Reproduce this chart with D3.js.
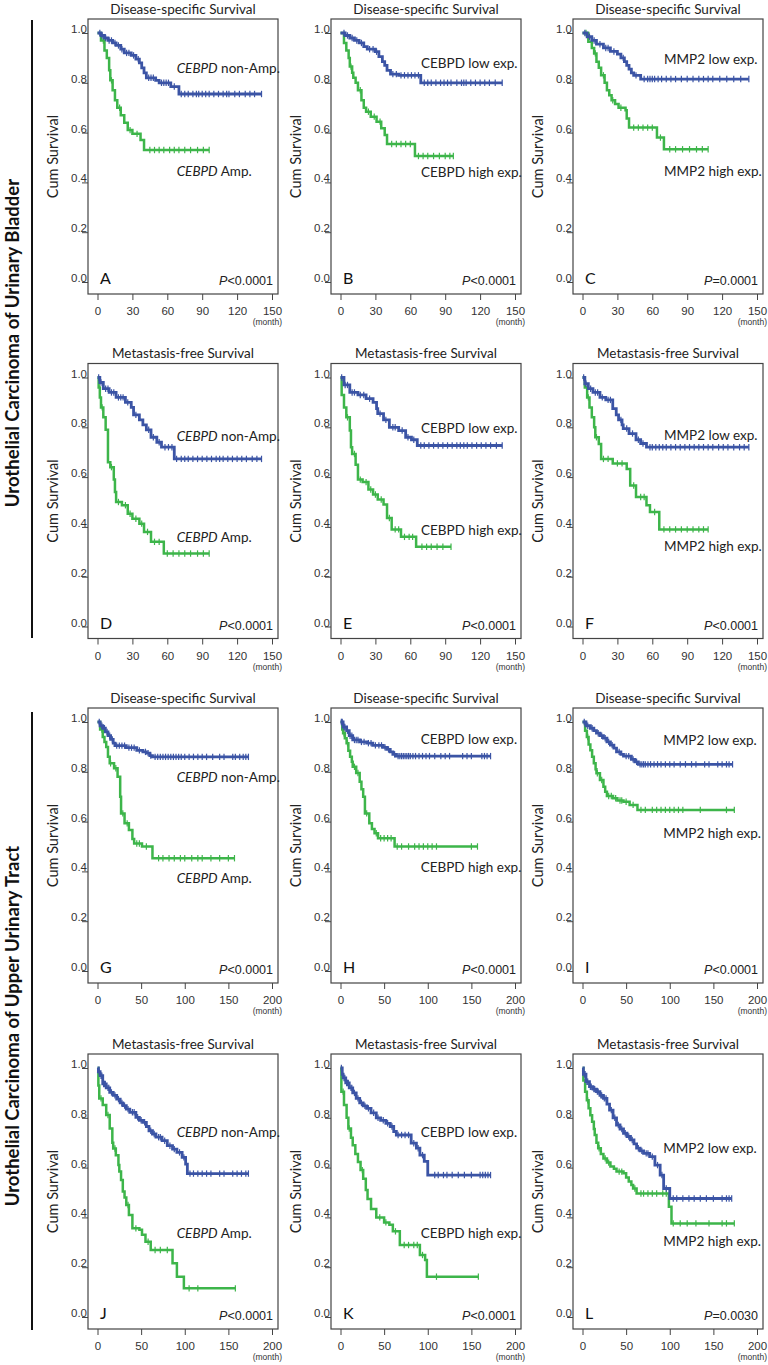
<!DOCTYPE html>
<html><head><meta charset="utf-8">
<script src="https://cdn.jsdelivr.net/npm/d3@7"></script>
<style>body{margin:0;background:#fff}</style>
</head><body>
<svg id="c" width="768" height="1365" xmlns="http://www.w3.org/2000/svg"></svg>
<script>
// ---------------- DATA ----------------
const letters = ["A","B","C","D","E","F","G","H","I","J","K","L"];
const titles = ["Disease-specific Survival","Disease-specific Survival","Disease-specific Survival",
  "Metastasis-free Survival","Metastasis-free Survival","Metastasis-free Survival",
  "Disease-specific Survival","Disease-specific Survival","Disease-specific Survival",
  "Metastasis-free Survival","Metastasis-free Survival","Metastasis-free Survival"];
const pSigns = ["<","<","=","<","<","<","<","<","<","<","<","="];
const pValues = ["0.0001","0.0001","0.0001","0.0001","0.0001","0.0001","0.0001","0.0001","0.0001","0.0001","0.0001","0.0030"];
const sectionLabels = ["Urothelial Carcinoma of Urinary Bladder","Urothelial Carcinoma of Upper Urinary Tract"];
const xTicksBladder = [0,30,60,90,120,150];
const xTicksTract = [0,50,100,150,200];
const yTicks = [0,0.2,0.4,0.6,0.8,1.0];
// group label parts: [italic part, normal part]
const lowLabels = [["CEBPD"," non-Amp."],["","CEBPD low exp."],["","MMP2 low exp."]];
const highLabels = [["CEBPD"," Amp."],["","CEBPD high exp."],["","MMP2 high exp."]];

// step curves: [month, survival from that month on]; censor: months
const A_blue = [[0,1],[3,0.99],[6,0.98],[9,0.97],[13,0.96],[16,0.95],[20,0.935],[23,0.92],[29,0.91],[33,0.895],[36,0.88],[38,0.86],[40,0.84],[42,0.82],[50,0.81],[53,0.80],[63,0.785],[70,0.755]];
const A_blueC = [2,4,7,10,12,15,18,21,25,27,31,35,44,46,48,55,57,59,61,66,72,75,78,82,85,87,90,93,96,100,104,108,111,113,118,122,127,131,135,141];
const A_green = [[0,1],[3,0.97],[6,0.93],[8,0.90],[10,0.85],[11,0.81],[13,0.77],[15,0.73],[17,0.70],[20,0.67],[23,0.64],[26,0.61],[30,0.595],[37,0.57],[40,0.53]];
const A_greenC = [5,12,19,28,34,45,49,53,57,62,66,70,75,80,86,91,96];

const B_blue = [[0,1],[4,0.99],[8,0.98],[12,0.97],[16,0.96],[20,0.945],[23,0.935],[30,0.925],[33,0.905],[36,0.885],[38,0.87],[40,0.85],[43,0.835],[50,0.83],[69,0.80]];
const B_blueC = [3,6,10,14,18,25,28,31,45,48,52,55,58,61,64,67,72,75,78,82,86,89,92,95,100,104,106,108,112,116,120,124,128,133,139];
const B_green = [[0,1],[3,0.96],[5,0.93],[7,0.90],[8,0.865],[10,0.84],[11,0.82],[13,0.80],[15,0.77],[18,0.73],[20,0.70],[22,0.684],[26,0.664],[31,0.644],[35,0.617],[38,0.59],[40,0.554],[64,0.506]];
const B_greenC = [9,17,24,29,34,44,48,52,56,60,67,71,75,80,85,90,94,97];

const C_blue = [[0,1],[4,0.985],[8,0.97],[12,0.955],[18,0.94],[24,0.926],[30,0.915],[33,0.90],[36,0.885],[38,0.87],[40,0.855],[42,0.84],[44,0.83],[50,0.815]];
const C_blueC = [2,6,10,15,20,22,27,35,46,53,56,58,60,62,65,68,72,76,80,85,90,95,100,104,108,112,118,124,130,136,143];
const C_green = [[0,1],[5,0.965],[8,0.94],[10,0.918],[12,0.885],[14,0.86],[16,0.83],[19,0.80],[21,0.77],[23,0.75],[25,0.73],[28,0.715],[31,0.70],[37,0.69],[38,0.657],[40,0.62],[64,0.58],[70,0.533]];
const C_greenC = [3,11,18,26,33,44,48,52,56,60,67,75,80,86,92,98,103,108];

const D_blue = [[0,1],[2,0.98],[5,0.955],[10,0.94],[16,0.92],[24,0.90],[29,0.88],[31,0.85],[36,0.83],[39,0.81],[42,0.79],[46,0.76],[51,0.74],[55,0.72],[66,0.673]];
const D_blueC = [1,3,7,9,12,14,18,20,22,26,33,44,48,53,58,61,64,68,72,75,78,82,86,90,94,98,102,105,108,112,116,120,124,128,133,137,141];
const D_green = [[0,1],[1,0.96],[2,0.92],[3,0.88],[5,0.84],[7,0.79],[9,0.66],[11,0.64],[14,0.59],[15,0.54],[16,0.50],[21,0.487],[26,0.453],[30,0.433],[36,0.413],[40,0.38],[46,0.34],[57,0.293]];
const D_greenC = [4,12,18,24,28,33,38,43,49,53,60,65,70,75,80,86,91,96];

const E_blue = [[0,1],[3,0.97],[8,0.94],[15,0.93],[22,0.915],[28,0.90],[31,0.875],[32,0.855],[37,0.83],[42,0.80],[50,0.787],[56,0.76],[61,0.75],[66,0.727]];
const E_blueC = [1,4,6,10,12,17,20,25,34,39,45,47,53,58,63,69,72,76,80,84,88,92,96,100,103,106,109,113,117,121,125,129,134,139];
const E_green = [[0,1],[1,0.93],[3,0.88],[5,0.84],[8,0.787],[9,0.72],[10,0.693],[13,0.65],[15,0.59],[19,0.58],[24,0.55],[28,0.53],[32,0.51],[37,0.49],[40,0.436],[44,0.39],[52,0.36],[65,0.32]];
const E_greenC = [6,12,17,22,26,30,35,42,47,50,55,59,62,70,74,78,83,88,95];

const F_blue = [[0,1],[2,0.975],[5,0.955],[9,0.94],[15,0.92],[20,0.91],[26,0.875],[29,0.85],[31,0.83],[34,0.81],[35,0.795],[40,0.775],[46,0.75],[50,0.735],[55,0.72]];
const F_blueC = [1,3,7,11,13,17,22,24,33,38,43,48,52,58,60,63,66,69,72,76,80,84,88,92,96,100,104,108,112,117,121,125,130,135,139,143];
const F_green = [[0,1],[2,0.96],[4,0.92],[6,0.88],[8,0.84],[10,0.80],[11,0.76],[14,0.733],[16,0.673],[26,0.655],[38,0.633],[41,0.566],[46,0.52],[55,0.487],[58,0.46],[66,0.39]];
const F_greenC = [5,12,18,22,30,34,44,50,53,62,70,75,80,85,90,95,100,104,108];

const G_blue = [[0,1],[3,0.985],[6,0.975],[9,0.96],[12,0.945],[15,0.93],[18,0.915],[20,0.905],[33,0.897],[45,0.886],[52,0.88],[56,0.875],[60,0.865],[63,0.86]];
const G_blueC = [2,5,8,11,14,17,22,25,28,31,36,39,42,48,55,58,61,66,69,72,75,78,81,84,87,90,93,96,100,105,110,115,120,125,132,140,145,155,158,163,167,170,173];
const G_green = [[0,1],[3,0.97],[6,0.94],[8,0.92],[10,0.90],[12,0.86],[14,0.834],[19,0.814],[23,0.78],[26,0.70],[27,0.633],[31,0.593],[36,0.566],[40,0.53],[42,0.512],[51,0.50],[63,0.453]];
const G_greenC = [5,15,21,29,34,45,48,56,70,75,82,88,95,100,108,115,120,130,140,150,157];

const H_blue = [[0,1],[3,0.98],[7,0.965],[10,0.945],[14,0.928],[22,0.92],[30,0.915],[37,0.906],[49,0.898],[53,0.89],[57,0.88],[60,0.87],[64,0.863]];
const H_blueC = [1,2,4,5,8,11,13,16,18,20,24,27,32,35,40,44,47,51,55,62,66,68,70,72,74,76,78,80,83,86,90,94,98,102,108,115,120,125,140,145,150,162,165,168,172];
const H_green = [[0,1],[2,0.97],[3,0.955],[5,0.935],[7,0.915],[9,0.885],[11,0.86],[13,0.84],[14,0.82],[18,0.795],[22,0.76],[24,0.73],[26,0.70],[28,0.633],[33,0.593],[36,0.57],[39,0.553],[43,0.533],[62,0.50]];
const H_greenC = [4,8,16,20,30,41,46,50,54,58,65,70,78,85,90,95,100,105,110,150,157];

const I_blue = [[0,1],[4,0.985],[9,0.975],[13,0.965],[16,0.955],[20,0.945],[24,0.935],[28,0.92],[32,0.907],[36,0.895],[39,0.88],[44,0.87],[47,0.863],[56,0.85],[60,0.84],[64,0.83]];
const I_blueC = [2,6,11,18,22,26,30,34,42,50,53,58,62,66,68,70,72,75,78,82,86,90,95,100,105,112,118,125,130,140,145,155,160,165,168,172];
const I_green = [[0,1],[3,0.965],[5,0.94],[7,0.91],[9,0.887],[11,0.86],[13,0.834],[15,0.81],[16,0.794],[20,0.767],[24,0.74],[26,0.72],[28,0.703],[35,0.694],[40,0.685],[47,0.68],[54,0.667],[63,0.647]];
const I_greenC = [6,17,22,30,33,38,43,45,50,58,67,72,80,85,90,95,100,105,110,115,135,165,174];

const J_blue = [[0,1],[1,0.985],[3,0.969],[6,0.936],[10,0.92],[14,0.902],[18,0.89],[22,0.875],[26,0.86],[29,0.849],[33,0.835],[37,0.822],[44,0.802],[48,0.79],[52,0.782],[56,0.765],[59,0.748],[63,0.735],[67,0.722],[74,0.708],[80,0.688],[86,0.674],[91,0.661],[97,0.641],[101,0.614],[103,0.576]];
const J_blueC = [2,4,5,7,8,9,12,13,16,20,24,28,31,35,40,42,46,50,54,61,65,70,72,77,83,88,94,99,106,110,115,120,125,130,140,145,155,160,165,170,173];
const J_green = [[0,1],[1,0.93],[2,0.878],[6,0.851],[10,0.811],[14,0.757],[17,0.70],[18,0.677],[21,0.65],[24,0.61],[25,0.584],[27,0.55],[29,0.504],[31,0.48],[33,0.45],[36,0.41],[40,0.356],[48,0.35],[51,0.33],[55,0.302],[61,0.269],[86,0.216],[91,0.162],[99,0.115]];
const J_greenC = [4,12,20,35,44,58,66,72,80,105,115,158];

const K_blue = [[0,1],[2,0.975],[3,0.96],[6,0.94],[10,0.92],[14,0.90],[18,0.878],[22,0.86],[26,0.848],[30,0.838],[35,0.82],[41,0.80],[46,0.79],[52,0.778],[57,0.765],[61,0.745],[64,0.731],[81,0.698],[87,0.678],[91,0.65],[96,0.625],[100,0.57]];
const K_blueC = [1,4,5,7,8,9,12,13,16,20,24,28,32,38,43,49,54,59,66,70,74,78,84,89,94,108,112,118,122,128,135,142,150,160,163,166,169,172];
const K_green = [[0,1],[1,0.905],[4,0.851],[7,0.80],[9,0.757],[12,0.72],[14,0.69],[17,0.655],[20,0.622],[23,0.59],[26,0.555],[29,0.51],[31,0.474],[35,0.434],[41,0.40],[50,0.38],[56,0.37],[60,0.344],[68,0.289],[91,0.249],[97,0.229],[99,0.162]];
const K_greenC = [3,10,25,45,52,63,73,78,84,88,94,110,158];

const L_blue = [[0,1],[1,0.975],[4,0.945],[8,0.925],[12,0.915],[16,0.905],[20,0.89],[24,0.878],[28,0.855],[31,0.831],[35,0.80],[39,0.771],[43,0.755],[47,0.738],[51,0.725],[55,0.711],[59,0.695],[62,0.678],[66,0.667],[70,0.657],[77,0.644],[83,0.61],[89,0.57],[93,0.516],[100,0.476]];
const L_blueC = [2,3,5,6,9,10,13,14,17,18,21,22,25,27,33,37,41,45,49,53,57,64,68,73,75,80,86,91,96,104,108,115,122,128,135,142,150,160,165,168,171];
const L_green = [[0,1],[1,0.95],[3,0.905],[5,0.87],[7,0.838],[9,0.81],[11,0.784],[13,0.755],[14,0.731],[16,0.70],[18,0.678],[21,0.655],[24,0.637],[28,0.62],[32,0.604],[36,0.595],[39,0.584],[47,0.577],[50,0.56],[53,0.544],[56,0.53],[58,0.516],[62,0.496],[99,0.443],[102,0.376]];
const L_greenC = [6,19,26,30,42,45,60,67,70,75,80,85,92,96,104,112,120,130,145,160,165,174];

// ---------------- LAYOUT ----------------
const BLUE = "#3B54A5", GREEN = "#3DB54A";
const colL = [88, 331, 573], rowT = [19, 363.5, 708, 1054];
const FW = 190, FH = 275;
const lowPos = [[88.7,54],[90,49],[91,45],[88.7,77],[90,69.5],[91,76.3],[88.7,73.7],[89.7,36],[90.3,37],[88.7,82.7],[89.7,82.7],[90.3,99.3]];
const highPos = [[88.7,156.7],[90,157.7],[91,157],[88.7,178.7],[90,171],[91,187],[88.7,175.3],[89.7,163.7],[90.3,130.3],[88.7,184.3],[89.7,183.7],[90.3,191.7]];

const blueSets = [[A_blue,A_blueC],[B_blue,B_blueC],[C_blue,C_blueC],[D_blue,D_blueC],[E_blue,E_blueC],[F_blue,F_blueC],
  [G_blue,G_blueC],[H_blue,H_blueC],[I_blue,I_blueC],[J_blue,J_blueC],[K_blue,K_blueC],[L_blue,L_blueC]];
const greenSets = [[A_green,A_greenC],[B_green,B_greenC],[C_green,C_greenC],[D_green,D_greenC],[E_green,E_greenC],[F_green,F_greenC],
  [G_green,G_greenC],[H_green,H_greenC],[I_green,I_greenC],[J_green,J_greenC],[K_green,K_greenC],[L_green,L_greenC]];

const svg = d3.select("#c");
const LATO = "Lato, 'Open Sans', sans-serif";
const ARIAL = "'Liberation Sans', Arial, sans-serif";

// section labels + lines
const secLine = [[20, 638], [712, 1330]];
const secCenter = [343, 1026];
secLine.forEach((s, i) => {
  svg.append("line").attr("x1", 32).attr("x2", 32).attr("y1", s[0]).attr("y2", s[1])
    .attr("stroke", "#111").attr("stroke-width", 2);
  svg.append("text").attr("transform", `translate(18.6,${secCenter[i]}) rotate(-90)`)
    .attr("text-anchor", "middle").attr("font-family", LATO).attr("font-weight", "bold")
    .attr("font-size", 18.5).attr("fill", "#111").text(sectionLabels[i]);
});

function survAt(steps, t) {
  let s = steps[0][1];
  for (const p of steps) { if (p[0] <= t) s = p[1]; else break; }
  return s;
}

letters.forEach((letter, i) => {
  const row = Math.floor(i / 3), col = i % 3;
  const L = colL[col], T = rowT[row];
  const bladder = row < 2;
  const xmax = bladder ? 150 : 200;
  const x = d3.scaleLinear().domain([0, xmax]).range([L + 9.5, L + 184]);
  const y = d3.scaleLinear().domain([0, 1]).range([T + 263, T + 14]);
  const g = svg.append("g");

  // title
  g.append("text").attr("x", L + FW / 2).attr("y", T - 5.5).attr("text-anchor", "middle")
    .attr("font-family", LATO).attr("font-size", 13.5).attr("fill", "#222").text(titles[i]);

  // frame
  g.append("rect").attr("x", L).attr("y", T).attr("width", FW).attr("height", FH)
    .attr("fill", "none").attr("stroke", "#444").attr("stroke-width", 1.2);

  // y axis
  const ya = g.append("g").attr("transform", `translate(${L},0)`)
    .call(d3.axisLeft(y).tickValues(yTicks).tickFormat(d3.format(".1f")).tickSize(6));
  ya.select(".domain").remove();
  ya.selectAll("line").attr("stroke", "#444");
  ya.selectAll("text").attr("x", -1).attr("dy", "-0.5").attr("font-family", ARIAL)
    .attr("font-size", 11.5).attr("fill", "#333");

  // x axis
  const xa = g.append("g").attr("transform", `translate(0,${T + FH})`)
    .call(d3.axisBottom(x).tickValues(bladder ? xTicksBladder : xTicksTract).tickSize(6));
  xa.select(".domain").remove();
  xa.selectAll("line").attr("stroke", "#444");
  xa.selectAll("text").attr("y", 13).attr("font-family", ARIAL).attr("font-size", 11.5).attr("fill", "#333");
  g.append("text").attr("x", L + 194).attr("y", T + FH + 31).attr("text-anchor", "end")
    .attr("font-family", ARIAL).attr("font-size", 8.5).attr("fill", "#333").text("(month)");

  // y title
  g.append("text").attr("transform", `translate(${L - 30},${T + FH / 2}) rotate(-90)`)
    .attr("text-anchor", "middle").attr("font-family", LATO).attr("font-size", 14.5)
    .attr("fill", "#222").text("Cum Survival");

  // curves
  const line = d3.line().x(d => x(d[0])).y(d => y(d[1])).curve(d3.curveStepAfter);
  [[greenSets[i], GREEN, 2.5], [blueSets[i], BLUE, 2.8]].forEach(([set, color, w]) => {
    const steps = set[0], cens = set[1];
    const end = Math.max(d3.max(cens), steps[steps.length - 1][0]);
    const pts = steps.concat([[end, steps[steps.length - 1][1]]]);
    g.append("path").attr("d", line(pts)).attr("fill", "none").attr("stroke", color)
      .attr("stroke-width", w).attr("stroke-linejoin", "miter");
    g.selectAll(null).data(cens).enter().append("line")
      .attr("x1", d => x(d)).attr("x2", d => x(d))
      .attr("y1", d => y(survAt(steps, d)) - 3.2).attr("y2", d => y(survAt(steps, d)) + 3.2)
      .attr("stroke", color).attr("stroke-width", 1.2);
  });

  // group labels
  const addLabel = (parts, pos) => {
    const t = g.append("text").attr("x", L + pos[0]).attr("y", T + pos[1])
      .attr("font-family", LATO).attr("font-size", 13.5).attr("fill", "#222");
    if (parts[0]) t.append("tspan").attr("font-style", "italic").text(parts[0]);
    t.append("tspan").text(parts[1]);
  };
  addLabel(lowLabels[col], lowPos[i]);
  addLabel(highLabels[col], highPos[i]);

  // panel letter
  g.append("text").attr("x", L + 12).attr("y", T + 265).attr("font-family", LATO)
    .attr("font-size", 16).attr("fill", "#111").text(letter);

  // p-value
  const pt = g.append("text").attr("x", L + FW - 5).attr("y", T + 266).attr("text-anchor", "end")
    .attr("font-family", ARIAL).attr("font-size", 12.5).attr("fill", "#222");
  pt.append("tspan").attr("font-style", "italic").text("P");
  pt.append("tspan").text(pSigns[i] + pValues[i]);
});
</script>
</body></html>
